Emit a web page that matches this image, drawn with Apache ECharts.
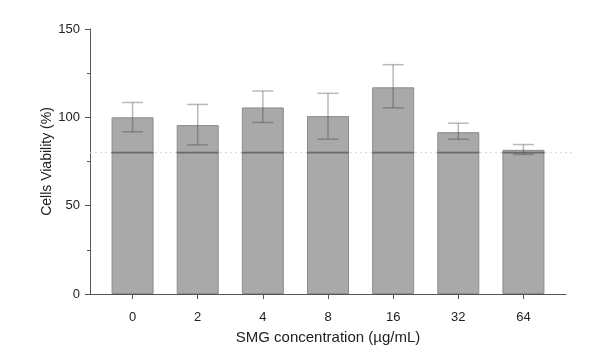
<!DOCTYPE html>
<html>
<head>
<meta charset="utf-8">
<script src="https://cdn.jsdelivr.net/npm/echarts@6/dist/echarts.min.js"></script>
<style>html,body{margin:0;padding:0;background:#fff}#c{width:608px;height:361px}</style>
</head>
<body>
<div id="c"></div>
<script>
const categories = ['0', '2', '4', '8', '16', '32', '64'];
const viability = [100, 95.6, 105.6, 100.7, 117, 91.6, 81.6];
const errUpper = [108.4, 107.3, 114.9, 113.6, 129.8, 96.7, 84.6];
const errLower = [91.8, 84.4, 97.1, 87.6, 105.4, 87.6, 79];
const threshold = 80;
const yMin = 0, yMax = 150, yStep = 50;
const xTitle = 'SMG concentration (µg/mL)';
const yTitle = 'Cells Viability (%)';

const FONT = '"Liberation Sans", Arial, sans-serif';
const BAR_W = 42, CAP_W = 21;

const chart = echarts.init(document.getElementById('c'), null, {renderer: 'canvas'});
chart.setOption({
  animation: false,
  backgroundColor: '#fff',
  textStyle: {fontFamily: FONT},
  grid: [
    {left: 90, right: 42, top: 29, bottom: 67},
    {left: 100, right: 52, top: 29, bottom: 67},
    {left: 90, right: 35, top: 29, bottom: 67}
  ],
  xAxis: [
    {gridIndex: 0, type: 'value', min: 0, max: 1,
     axisLine: {show: true, lineStyle: {color: '#555', width: 1}},
     axisTick: {show: false}, axisLabel: {show: false}, splitLine: {show: false},
     name: xTitle, nameLocation: 'middle', nameGap: 36, nameMoveOverlap: false,
     nameTextStyle: {fontSize: 15, color: '#222', fontFamily: FONT}},
    {gridIndex: 1, type: 'category', data: categories, boundaryGap: true,
     axisLine: {show: false},
     axisTick: {show: true, alignWithLabel: true, length: 5, lineStyle: {color: '#555'}},
     axisLabel: {fontSize: 13, color: '#222', margin: 17, fontFamily: FONT},
     splitLine: {show: false}},
    {gridIndex: 2, type: 'value', min: 0, max: 1, show: false}
  ],
  yAxis: [
    {gridIndex: 0, type: 'value', min: yMin, max: yMax, interval: yStep,
     axisLine: {show: true, lineStyle: {color: '#555', width: 1}},
     axisTick: {show: true, length: 5, lineStyle: {color: '#555'}},
     minorTick: {show: true, splitNumber: 2, length: 3, lineStyle: {color: '#555'}},
     axisLabel: {fontSize: 13, color: '#222', margin: 10, fontFamily: FONT},
     splitLine: {show: false},
     name: yTitle, nameLocation: 'middle', nameGap: 36, nameMoveOverlap: false,
     nameTextStyle: {fontSize: 14, color: '#222', fontFamily: FONT}},
    {gridIndex: 1, type: 'value', min: yMin, max: yMax, show: false},
    {gridIndex: 2, type: 'value', min: yMin, max: yMax, show: false}
  ],
  series: [
    {type: 'line', xAxisIndex: 2, yAxisIndex: 2, z: 1, symbol: 'none',
     data: [[0, threshold], [1, threshold]],
     lineStyle: {color: '#d6d6d6', width: 1, type: [2, 3]}},
    {type: 'bar', xAxisIndex: 1, yAxisIndex: 1, z: 2, barWidth: BAR_W,
     data: viability,
     itemStyle: {color: '#a9a9a9', borderColor: '#8c8c8c', borderWidth: 1}},
    {type: 'custom', xAxisIndex: 1, yAxisIndex: 1, z: 3,
     data: categories.map((c, i) => [i, viability[i], errLower[i], errUpper[i]]),
     renderItem: function (params, api) {
       const i = api.value(0);
       const th = api.coord([i, threshold]);
       const lo = api.coord([i, api.value(2)]);
       const hi = api.coord([i, api.value(3)]);
       const errStyle = {stroke: 'rgba(60,60,60,0.36)', lineWidth: 1.5};
       const children = [];
       if (api.value(1) > threshold) {
         children.push({type: 'line', shape: {x1: th[0] - BAR_W / 2, y1: th[1], x2: th[0] + BAR_W / 2, y2: th[1]},
           style: {stroke: '#6a6a6a', lineWidth: 1.6}});
       }
       children.push({type: 'line', shape: {x1: lo[0], y1: lo[1], x2: hi[0], y2: hi[1]}, style: errStyle});
       children.push({type: 'line', shape: {x1: hi[0] - CAP_W / 2, y1: hi[1], x2: hi[0] + CAP_W / 2, y2: hi[1]}, style: errStyle});
       children.push({type: 'line', shape: {x1: lo[0] - CAP_W / 2, y1: lo[1], x2: lo[0] + CAP_W / 2, y2: lo[1]}, style: errStyle});
       return {type: 'group', children: children};
     }}
  ]
});
</script>
</body>
</html>
